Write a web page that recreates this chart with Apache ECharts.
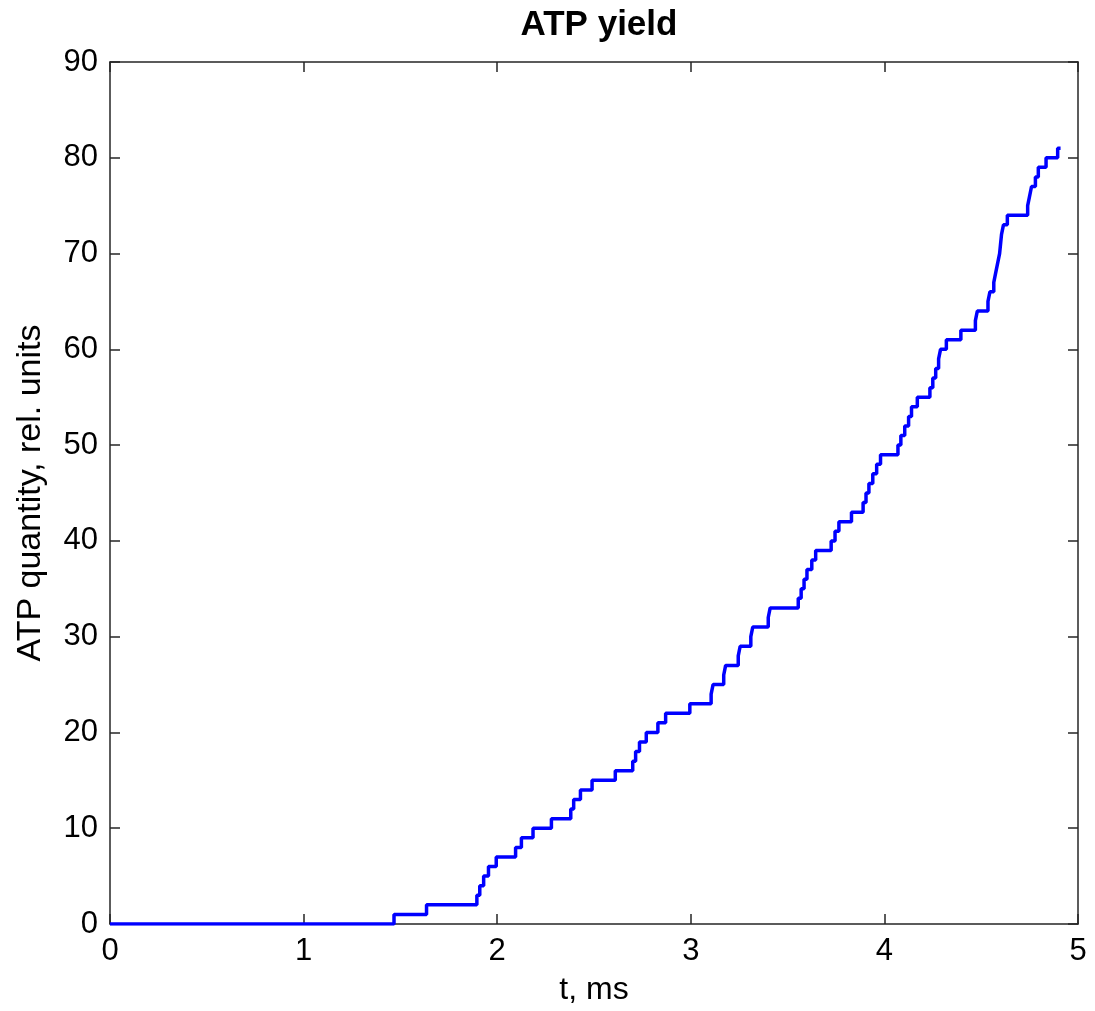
<!DOCTYPE html>
<html>
<head>
<meta charset="utf-8">
<title>ATP yield</title>
<script src="https://cdn.jsdelivr.net/npm/echarts@6/dist/echarts.min.js"></script>
<style>
  html, body { margin: 0; padding: 0; background: #fff; }
  #chart { width: 1095px; height: 1011px; }
</style>
</head>
<body>
<div id="chart"></div>
<script>
// step start times (ms) and the ATP level that begins at each one
var times = [0, 1.467, 1.635, 1.895, 1.91, 1.93, 1.955, 1.995, 2.095, 2.125,
  2.185, 2.28, 2.38, 2.395, 2.43, 2.49, 2.61, 2.70, 2.715, 2.735,
  2.77, 2.83, 2.87, 2.995, 3.105, 3.115, 3.17, 3.18, 3.245, 3.255,
  3.31, 3.32, 3.40, 3.41, 3.555, 3.57, 3.585, 3.60, 3.625, 3.645,
  3.725, 3.745, 3.765, 3.83, 3.89, 3.905, 3.92, 3.94, 3.96, 3.98,
  4.07, 4.085, 4.105, 4.125, 4.14, 4.17, 4.235, 4.25, 4.265, 4.28,
  4.29, 4.32, 4.395, 4.47, 4.48, 4.535, 4.545, 4.565, 4.575, 4.585,
  4.595, 4.60, 4.605, 4.615, 4.635, 4.74, 4.75, 4.76, 4.78, 4.795,
  4.835, 4.895, 4.91];
var atp = [0, 1, 2, 3, 4, 5, 6, 7, 8, 9,
  10, 11, 12, 13, 14, 15, 16, 17, 18, 19,
  20, 21, 22, 23, 24, 25, 26, 27, 28, 29,
  30, 31, 32, 33, 34, 35, 36, 37, 38, 39,
  40, 41, 42, 43, 44, 45, 46, 47, 48, 49,
  50, 51, 52, 53, 54, 55, 56, 57, 58, 59,
  60, 61, 62, 63, 64, 65, 66, 67, 68, 69,
  70, 71, 72, 73, 74, 75, 76, 77, 78, 79,
  80, 81, 81];
var xTicks = [0, 1, 2, 3, 4, 5];
var yTicks = [0, 10, 20, 30, 40, 50, 60, 70, 80, 90];

var font = 'Liberation Sans, Arial, sans-serif';
var axisColor = '#262626';

var myChart = echarts.init(document.getElementById('chart'));

function frameAxis(pos, min, max, step, show) {
  return {
    type: 'value',
    position: pos,
    min: min, max: max, interval: step,
    axisLine: { show: true, onZero: false, lineStyle: { color: axisColor, width: 1.5 } },
    axisTick: { show: true, inside: true, length: 10, lineStyle: { color: axisColor, width: 1.5 } },
    axisLabel: { show: show, color: '#000', fontSize: 31, fontFamily: font, margin: 12 },
    splitLine: { show: false }
  };
}

var xMain = frameAxis('bottom', xTicks[0], xTicks[xTicks.length - 1], 1, true);
xMain.name = 't, ms';
xMain.nameLocation = 'middle';
xMain.nameGap = 50;
xMain.nameTextStyle = { color: '#000', fontSize: 32, fontFamily: font };

var yMain = frameAxis('left', yTicks[0], yTicks[yTicks.length - 1], 10, true);
yMain.name = 'ATP quantity, rel. units';
yMain.nameLocation = 'middle';
yMain.nameGap = 62;
yMain.nameTextStyle = { color: '#000', fontSize: 34, fontFamily: font };

var option = {
  animation: false,
  backgroundColor: '#fff',
  title: {
    text: 'ATP yield',
    left: 594,
    textAlign: 'center',
    top: 3,
    textStyle: { color: '#000', fontSize: 35, fontWeight: 'bold', fontFamily: font }
  },
  grid: { left: 110, right: 17, top: 62, bottom: 84, containLabel: false },
  xAxis: [xMain, frameAxis('top', 0, 5, 1, false)],
  yAxis: [yMain, frameAxis('right', 0, 90, 10, false)],
  series: [{
    type: 'line',
    step: 'end',
    showSymbol: false,
    xAxisIndex: 0,
    yAxisIndex: 0,
    lineStyle: { color: '#0000ff', width: 3.5 },
    data: times.map(function (t, i) { return [t, atp[i]]; })
  }]
};

myChart.setOption(option);
</script>
</body>
</html>
